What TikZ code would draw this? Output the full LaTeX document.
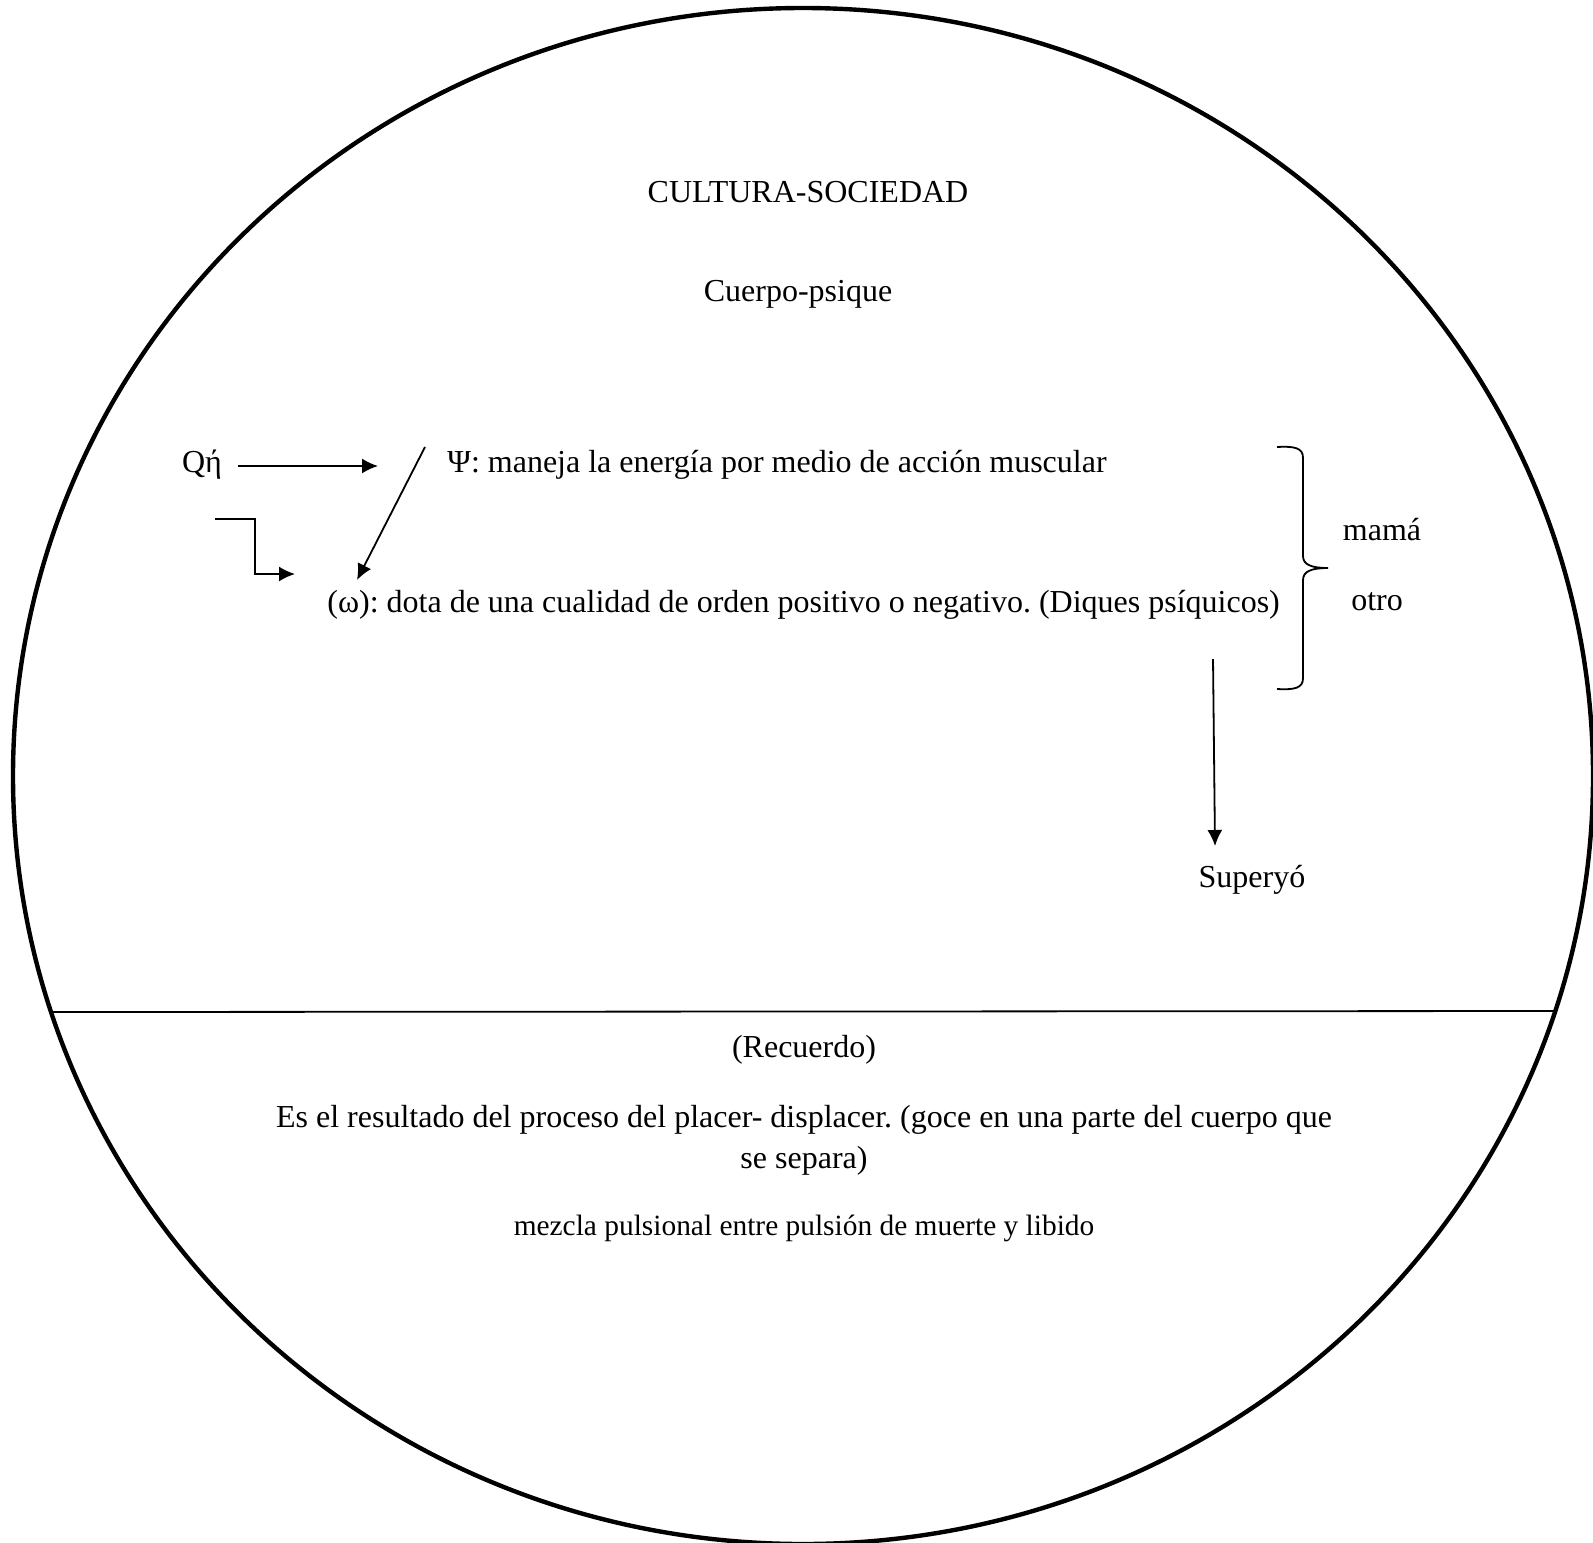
\documentclass[tikz,border=0pt]{standalone}
\usepackage{fontspec}
\setmainfont{Liberation Serif}
\usetikzlibrary{positioning,arrows.meta}
\frenchspacing
\tikzset{txt/.style={inner sep=0pt, anchor=base,
                     font=\fontsize{16}{19}\selectfont}}
\tikzset{txtleft/.style={txt, anchor=base west}}

\begin{document}
\begin{tikzpicture}[>={Latex[length=8pt,width=7.5pt]},
    x=0.5pt, y=-0.5pt,
    % styles for clarity
    rim/.style    ={line width=2.2pt},
    conn/.style   ={line width=0.9pt},
    small/.style  ={txt, font=\fontsize{14.7}{17}\selectfont}
  ]
    \useasboundingbox (0,0) rectangle (1593,1542);
    \draw[rim] (803,776) ellipse [x radius=790, y radius=768];
    \draw[conn] (51,1012) -- (1556,1011);

    \node[txt](cultura) at (808,202) {CULTURA-SOCIEDAD};
    \node[txt](cuerpo) at (798,301) {Cuerpo-psique};

    \node[txt](qeta) at (202,472) {Qή};
    \node[txtleft](psi) at (447,472) {Ψ: maneja la energía por medio de acción muscular};
    \node[txtleft](omega) at (327,612) {(ω): dota de una cualidad de orden positivo o negativo. (Diques psíquicos)};

    \coordinate (qa) at (238,466);
    \coordinate (qb) at (378,466);
    \coordinate (sa) at (425,447);
    \coordinate (sb) at (357,580);
    \coordinate (ea) at (215,519);
    \coordinate (eb) at (295,574);

    \draw[conn,->] (qa) -- (qb);
    \draw[conn,->] (sa) -- (sb);
    \draw[conn,->] (ea) -| (255,574) -- (eb);

    % brace
    \draw[conn] (1277,447) .. controls (1295,446) and (1303,448) .. (1303,458)
      -- (1303,556) .. controls (1303,565) and (1312,568) .. (1328,568)
      .. controls (1312,568) and (1303,571) .. (1303,580)
      -- (1303,678) .. controls (1303,688) and (1295,690) .. (1277,689);
    \node[txt](mama) at (1382,540) {mamá};
    \node[txt](otro) at (1377,610) {otro};

    \node[txt](superyo) at (1252,887) {Superyó};
    \coordinate (va) at (1213,659);
    \coordinate (vb) at (1215,846);
    \draw[conn,->] (va) -- (vb);

    \node[txt](recuerdo) at (804,1057) {(Recuerdo)};
    \node[txt](resultado) at (804,1127) {Es el resultado del proceso del placer- displacer. (goce en una parte del cuerpo que};
    \node[txt](separa) at (804,1168) {se separa)};
    \node[small](mezcla) at (804,1235) {mezcla pulsional entre pulsión de muerte y libido};
  \end{tikzpicture}
\end{document}
